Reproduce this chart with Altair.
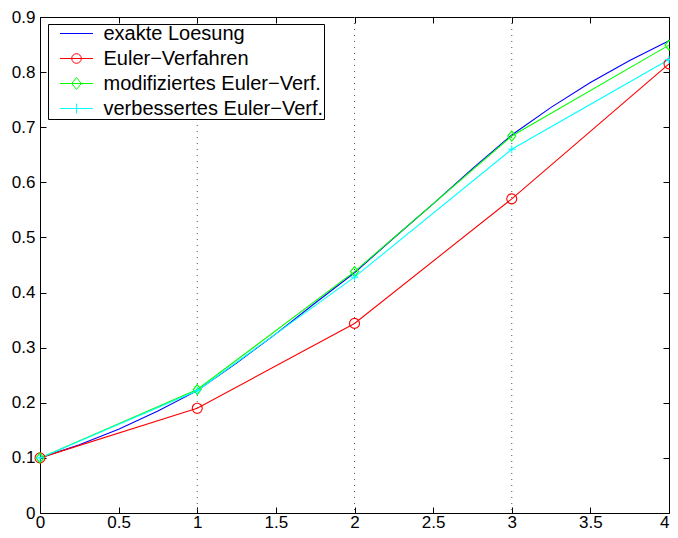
import altair as alt
import pandas as pd

FONT = "Liberation Sans"

series_names = ["exakte Loesung", "Euler−Verfahren", "modifiziertes Euler−Verf.", "verbessertes Euler−Verf."]
series_colors = ["#0000ff", "#ff0000", "#00ff00", "#00ffff"]

# exact solution
x_exact = [0.0, 0.25, 0.5, 0.75, 1.0, 1.25, 1.5, 1.75, 2.0, 2.25, 2.5, 2.75, 3.0, 3.25, 3.5, 3.75, 4.0]
y_exact = [0.100, 0.124, 0.152, 0.185, 0.222, 0.272, 0.325, 0.381, 0.436, 0.499, 0.561, 0.625, 0.686, 0.736, 0.781, 0.821, 0.857]

# numerical methods
x_steps = [0, 1, 2, 3, 4]
y_euler = [0.100, 0.190, 0.344, 0.570, 0.815]
y_mod = [0.100, 0.224, 0.438, 0.684, 0.849]
y_imp = [0.100, 0.222, 0.428, 0.660, 0.823]

grid_x = [1, 2, 3]
x_ticks = [0, 0.5, 1, 1.5, 2, 2.5, 3, 3.5, 4]
y_ticks = [0, 0.1, 0.2, 0.3, 0.4, 0.5, 0.6, 0.7, 0.8, 0.9]

rows = []
for i, (x, y) in enumerate(zip(x_exact, y_exact)):
    rows.append({"x": x, "y": y, "series": series_names[0], "k": i})
for name, ys in zip(series_names[1:], [y_euler, y_mod, y_imp]):
    for i, (x, y) in enumerate(zip(x_steps, ys)):
        rows.append({"x": x, "y": y, "series": name, "k": i})
lines_df = pd.DataFrame(rows)
markers_df = lines_df[lines_df["series"] != series_names[0]].reset_index(drop=True)

xscale = alt.Scale(domain=[0, 4], nice=False, zero=False)
yscale = alt.Scale(domain=[0, 0.9], nice=False, zero=False)

def mk_axis(orient, values, labels):
    kw = dict(orient=orient, values=values, title=None, grid=False, domain=False,
              tickSize=6, offset=-6, tickColor="black", tickWidth=1, labels=labels)
    if labels:
        kw.update(format="~g", labelFont=FONT, labelFontSize=17, labelColor="black",
                  labelFlush=False, labelOverlap=False,
                  labelPadding=1 if orient in ("bottom", "top") else 5)
        if orient == "bottom":
            kw["labelAlign"] = alt.condition("datum.value == 4", alt.value("right"), alt.value("center"))
    return alt.Axis(**kw)

grid = alt.Chart(pd.DataFrame({"x": grid_x})).mark_rule(
    color="#555555", strokeDash=[1, 5], strokeWidth=1
).encode(x=alt.X("x:Q", scale=xscale, axis=mk_axis("bottom", x_ticks, True)))

lines = alt.Chart(lines_df).mark_line(strokeWidth=1.1).encode(
    x=alt.X("x:Q", scale=xscale, axis=mk_axis("top", x_ticks, False)),
    y=alt.Y("y:Q", scale=yscale, axis=mk_axis("left", y_ticks, True)),
    color=alt.Color("series:N", scale=alt.Scale(domain=series_names, range=series_colors), legend=None),
    order="k:Q",
)

marker_shapes = ["circle", "M0,-1L0.8,0L0,1L-0.8,0Z", "M-0.75,0H0.75M0,-0.75V0.75"]
markers = alt.Chart(markers_df).mark_point(filled=False, strokeWidth=1.1, opacity=1, size=100).encode(
    x=alt.X("x:Q", scale=xscale, axis=None),
    y=alt.Y("y:Q", scale=yscale, axis=mk_axis("right", y_ticks, False)),
    color=alt.Color("series:N", scale=alt.Scale(domain=series_names, range=series_colors), legend=None),
    shape=alt.Shape("series:N", scale=alt.Scale(domain=series_names[1:], range=marker_shapes), legend=None),
)

legend_paths = [
    "M-1,0H1",
    "M-1,0H1M0.29,0A0.29,0.29,0,1,1,-0.29,0A0.29,0.29,0,1,1,0.29,0",
    "M-1,0H1M0,-0.36L0.29,0L0,0.36L-0.29,0Z",
    "M-1,0H1M0,-0.3V0.3",
]
leg = alt.Legend(
    title=None, orient="none", legendX=8, legendY=7, direction="vertical",
    fillColor="white", strokeColor="black", padding=0, cornerRadius=0,
    symbolSize=1089, symbolStrokeWidth=1, symbolOffset=11.5, labelOffset=10,
    clipHeight=19, rowPadding=4, labelFont=FONT, labelFontSize=20,
    labelColor="black", labelLimit=400,
    labelExpr="datum.label + '\u00a0\u00a0'",
)
legend_layer = alt.Chart(lines_df).transform_filter("datum.x < 0").mark_point(
    filled=False, strokeWidth=1, opacity=1
).encode(
    x=alt.X("x:Q", scale=xscale, axis=None),
    y=alt.Y("y:Q", scale=yscale, axis=None),
    color=alt.Color("series:N", scale=alt.Scale(domain=series_names, range=series_colors), legend=leg),
    shape=alt.Shape("series:N", scale=alt.Scale(domain=series_names, range=legend_paths), legend=leg),
)

chart = alt.layer(grid, lines, markers, legend_layer).resolve_scale(
    color="independent", shape="independent"
).resolve_axis(
    x="independent", y="independent"
).properties(
    width=629, height=496,
    autosize=alt.AutoSizeParams(type="none"),
    padding={"left": 32, "top": 9, "right": 1, "bottom": 17},
    background="white",
).configure_view(stroke="black", strokeWidth=1)

chart.save("out.html", embed_options={"renderer": "svg", "actions": False})
